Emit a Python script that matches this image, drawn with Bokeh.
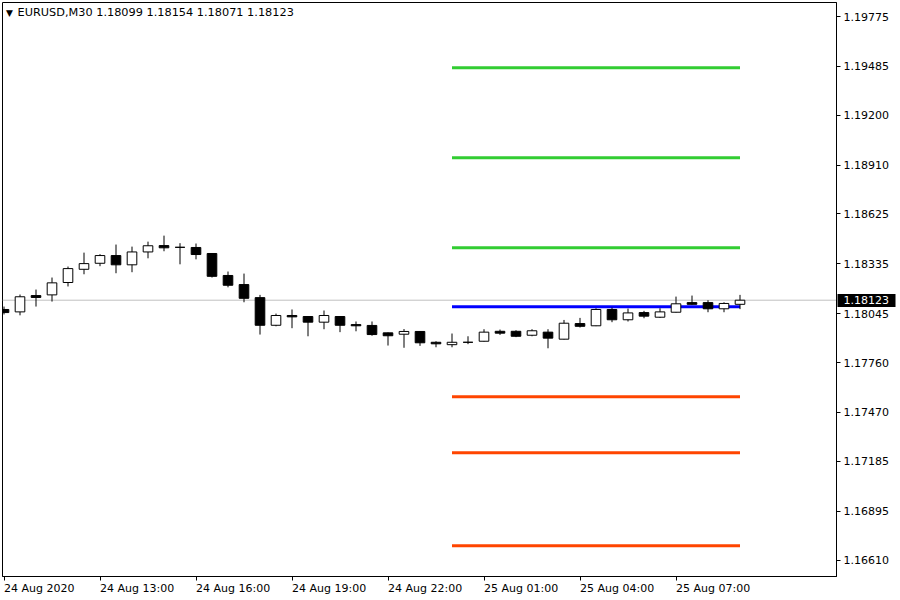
from bokeh.plotting import figure
from bokeh.models import (Range1d, FixedTicker, PrintfTickFormatter, Label, ColumnDataSource,
                          LinearAxis)
from bokeh.embed import file_html
from bokeh.resources import INLINE

# ---------------- data ----------------
chart_title = "EURUSD,M30  1.18099 1.18154 1.18071 1.18123"
bar_index = list(range(47))
opens = [1.18069, 1.18055, 1.18150, 1.18154, 1.18226, 1.18303, 1.18338, 1.18383, 1.18329, 1.18404,
         1.18441, 1.18431, 1.18430, 1.18395, 1.18267, 1.18214, 1.18138, 1.17977, 1.18034, 1.18028,
         1.17995, 1.18028, 1.17981, 1.17976, 1.17933, 1.17925, 1.17941, 1.17878, 1.17864, 1.17878,
         1.17884, 1.17942, 1.17942, 1.17919, 1.17937, 1.17896, 1.17987, 1.17974, 1.18069, 1.18009,
         1.18051, 1.18024, 1.18053, 1.18109, 1.18109, 1.18073, 1.18099]
highs = [1.18086, 1.18156, 1.18185, 1.18255, 1.18319, 1.18400, 1.18391, 1.18447, 1.18435, 1.18464,
         1.18499, 1.18455, 1.18453, 1.18397, 1.18290, 1.18278, 1.18154, 1.18045, 1.18069, 1.18031,
         1.18063, 1.18031, 1.17999, 1.17999, 1.17935, 1.17955, 1.17942, 1.17884, 1.17929, 1.17913,
         1.17954, 1.17952, 1.17948, 1.17954, 1.17954, 1.18008, 1.18020, 1.18076, 1.18080, 1.18074,
         1.18061, 1.18076, 1.18144, 1.18150, 1.18123, 1.18111, 1.18154]
lows = [1.18040, 1.18035, 1.18086, 1.18115, 1.18203, 1.18274, 1.18321, 1.18280, 1.18286, 1.18367,
        1.18408, 1.18332, 1.18361, 1.18255, 1.18198, 1.18111, 1.17923, 1.17971, 1.17960, 1.17913,
        1.17954, 1.17937, 1.17942, 1.17916, 1.17859, 1.17846, 1.17857, 1.17849, 1.17849, 1.17867,
        1.17882, 1.17921, 1.17908, 1.17913, 1.17843, 1.17894, 1.17964, 1.17972, 1.17995, 1.17999,
        1.18018, 1.18020, 1.18051, 1.18097, 1.18053, 1.18053, 1.18071]
closes = [1.18051, 1.18143, 1.18139, 1.18224, 1.18307, 1.18336, 1.18383, 1.18329, 1.18404, 1.18440,
          1.18428, 1.18431, 1.18389, 1.18262, 1.18210, 1.18134, 1.17977, 1.18034, 1.18026, 1.17995,
          1.18034, 1.17977, 1.17974, 1.17923, 1.17916, 1.17941, 1.17875, 1.17869, 1.17878, 1.17878,
          1.17937, 1.17931, 1.17913, 1.17945, 1.17902, 1.17989, 1.17971, 1.18069, 1.18009, 1.18049,
          1.18030, 1.18055, 1.18102, 1.18099, 1.18073, 1.18104, 1.18123]

level_prices = [1.19476, 1.18952, 1.18428, 1.18085, 1.17561, 1.17234, 1.16693]
level_colors = ["#32CD32", "#32CD32", "#32CD32", "#0000FF", "#FF4500", "#FF4500", "#FF4500"]
level_start_bar = 28
level_end_bar = 46
last_price = 1.18123

y_ticks = [1.19775, 1.19485, 1.19200, 1.18910, 1.18625, 1.18335, 1.18045,
           1.17760, 1.17470, 1.17185, 1.16895, 1.16610]
x_tick_bars = [0, 6, 12, 18, 24, 30, 36, 42]
x_tick_labels = ["24 Aug 2020", "24 Aug 13:00", "24 Aug 16:00", "24 Aug 19:00",
                 "24 Aug 22:00", "25 Aug 01:00", "25 Aug 04:00", "25 Aug 07:00"]

# ---------------- layout ----------------
FONT = "DejaVu Sans"
FS = 11
FRAME_W, FRAME_H = 834, 574
BAR_PX = 16.0
PRICE_PER_PX = 5.823e-5
x_start = -1.5 / BAR_PX
x_end = x_start + FRAME_W / BAR_PX
y_end = 1.19775 + 14 * PRICE_PER_PX
y_start = y_end - FRAME_H * PRICE_PER_PX

p = figure(frame_width=FRAME_W, frame_height=FRAME_H,
           min_border_left=2, min_border_top=2, min_border_right=64, min_border_bottom=24,
           x_range=Range1d(x_start, x_end), y_range=Range1d(y_start, y_end),
           y_axis_location="right", output_backend="svg", toolbar_location=None,
           background_fill_color="white", border_fill_color="white")
p.outline_line_color = "black"
p.outline_line_width = 1
p.xgrid.visible = False
p.ygrid.visible = False

# y axis
ya = p.yaxis[0]
ya.ticker = FixedTicker(ticks=y_ticks)
ya.formatter = PrintfTickFormatter(format="%.5f")
ya.major_tick_out = 4
ya.major_tick_in = 0
ya.minor_tick_out = 0
ya.minor_tick_in = 0
ya.major_label_standoff = 3
ya.major_label_text_font = FONT
ya.major_label_text_font_size = f"{FS}px"
ya.major_label_text_color = "black"
ya.axis_line_color = "black"
ya.major_tick_line_color = "black"

# last price tag: a second right axis whose single thick tick is the black box,
# its label pulled back over the first axis
MAIN_AXIS_W = 55          # approx. width taken by the first right axis
BOX_L, BOX_R = 1, 59      # box span, px right of the frame edge
tag = LinearAxis(ticker=FixedTicker(ticks=[last_price]),
                 formatter=PrintfTickFormatter(format="%.5f"))
tag.axis_line_color = None
tag.minor_tick_line_color = None
tag.minor_tick_out = 0
tag.minor_tick_in = 0
tag.major_tick_line_color = "black"
tag.major_tick_line_width = 13
tag.major_tick_line_cap = "butt"
tag.major_tick_in = MAIN_AXIS_W - BOX_L
tag.major_tick_out = BOX_R - MAIN_AXIS_W
tag.major_label_standoff = 7 - BOX_R
tag.major_label_text_font = FONT
tag.major_label_text_font_size = f"{FS}px"
tag.major_label_text_color = "white"
p.add_layout(tag, "right")

# x axis: ticks as minor ticks at bar positions; labels left-aligned to them
ADV = {d: 0.636 for d in "0123456789"}
ADV.update({" ": 0.318, "A": 0.684, "u": 0.634, "g": 0.635, ":": 0.337})


def text_w(s):
    return sum(ADV.get(c, 0.62) for c in s) * FS


label_pos = [b + text_w(t) / 2 / BAR_PX for b, t in zip(x_tick_bars, x_tick_labels)]
xa = p.xaxis[0]
xa.ticker = FixedTicker(ticks=label_pos, minor_ticks=[float(b) for b in x_tick_bars])
xa.major_label_overrides = {pos: t for pos, t in zip(label_pos, x_tick_labels)}
xa.major_tick_out = 0
xa.major_tick_in = 0
xa.minor_tick_out = 4
xa.minor_tick_in = 0
xa.minor_tick_line_color = "black"
xa.major_label_standoff = 1
xa.major_label_text_font = FONT
xa.major_label_text_font_size = f"{FS}px"
xa.major_label_text_color = "black"
xa.axis_line_color = "black"

# last price line
p.line(x=[x_start, x_end], y=[last_price, last_price], line_color="#C0C0C0", line_width=1)

# level lines
lvl = ColumnDataSource(dict(x0=[level_start_bar] * len(level_prices),
                            x1=[level_end_bar] * len(level_prices),
                            y=level_prices, c=level_colors))
p.segment(x0="x0", y0="y", x1="x1", y1="y", line_color="c", line_width=3, source=lvl)

# candles
tops = [max(o, c) for o, c in zip(opens, closes)]
bots = [min(o, c) for o, c in zip(opens, closes)]
fills = ["white" if c > o else "black" for o, c in zip(opens, closes)]
src = ColumnDataSource(dict(x=bar_index, h=highs, l=lows, top=tops, bot=bots, fill=fills))
p.segment(x0="x", y0="l", x1="x", y1="h", line_color="black", line_width=1, source=src)
p.vbar(x="x", width=0.6, top="top", bottom="bot", fill_color="fill",
       line_color="black", line_width=1, source=src)

# title
ppx = PRICE_PER_PX
p.add_layout(Label(x=x_start + 3.5 / BAR_PX, y=y_end - 10 * ppx, text="▼",
                   text_font=FONT, text_font_size="9px", text_color="black",
                   text_baseline="middle", text_align="left"))
p.add_layout(Label(x=x_start + 15 / BAR_PX, y=y_end - 10 * ppx, text=chart_title,
                   text_font=FONT, text_font_size="11.3px", text_color="black",
                   text_baseline="middle", text_align="left"))

open("out.html", "w").write(file_html(p, INLINE))
